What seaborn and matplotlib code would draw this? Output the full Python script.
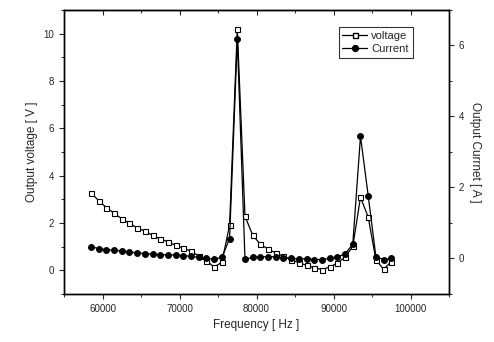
import matplotlib
matplotlib.use('Agg')
import matplotlib.pyplot as plt
import seaborn as sns
import numpy as np
from matplotlib.ticker import MultipleLocator
from matplotlib.lines import Line2D

# frequency steps (Hz)
freq = [58500, 59500, 60500, 61500, 62500, 63500, 64500, 65500, 66500, 67500,
        68500, 69500, 70500, 71500, 72500, 73500, 74500, 75500, 76500, 77500,
        78500, 79500, 80500, 81500, 82500, 83500, 84500, 85500, 86500, 87500,
        88500, 89500, 90500, 91500, 92500, 93500, 94500, 95500, 96500, 97500]

voltage = [3.28, 2.94, 2.65, 2.41, 2.18, 1.98, 1.80, 1.65, 1.48, 1.32,
           1.21, 1.05, 0.94, 0.81, 0.60, 0.40, 0.14, 0.34, 1.91, 10.2,
           2.29, 1.48, 1.10, 0.90, 0.73, 0.59, 0.45, 0.32, 0.21, 0.11,
           0.03, 0.14, 0.31, 0.56, 1.01, 3.09, 2.25, 0.45, 0.04, 0.37]

current = [0.33, 0.28, 0.25, 0.23, 0.21, 0.18, 0.16, 0.14, 0.12, 0.11,
           0.10, 0.10, 0.08, 0.06, 0.03, 0.00, -0.02, 0.03, 0.56, 6.18,
           -0.02, 0.03, 0.05, 0.05, 0.05, 0.02, 0.00, -0.01, -0.01, -0.03,
           -0.03, 0.00, 0.05, 0.12, 0.41, 3.44, 1.77, 0.05, -0.03, 0.00]

sns.set_style('ticks')
plt.rcParams['font.family'] = ['Liberation Sans', 'DejaVu Sans']

fig = plt.figure(figsize=(4.94, 3.42), dpi=100)
ax = fig.add_axes([0.1296, 0.1404, 0.7794, 0.8304])
ax2 = ax.twinx()

sns.lineplot(x=freq, y=voltage, ax=ax, color='black', linewidth=0.9,
             marker='s', markersize=3.6, markerfacecolor='white',
             markeredgecolor='black', markeredgewidth=0.8)
sns.lineplot(x=freq, y=current, ax=ax2, color='black', linewidth=0.9,
             marker='o', markersize=4.2, markerfacecolor='black',
             markeredgecolor='black')

ax.set_xlim(55000, 105000)
ax.set_ylim(-1, 11)
ax2.set_ylim(-1, 7)

ax.xaxis.set_major_locator(MultipleLocator(10000))
ax.xaxis.set_minor_locator(MultipleLocator(5000))
ax.yaxis.set_major_locator(MultipleLocator(2))
ax.yaxis.set_minor_locator(MultipleLocator(1))
ax2.yaxis.set_major_locator(MultipleLocator(2))
ax2.yaxis.set_minor_locator(MultipleLocator(1))

for a in (ax, ax2):
    a.tick_params(which='major', length=3.5, width=0.8, labelsize=7, direction='out')
    a.tick_params(which='minor', length=2, width=0.7, direction='out')
    for s in a.spines.values():
        s.set_linewidth(1.0)
        s.set_color('black')

# mirrored ticks on the top edge, pointing inward
top = ax.secondary_xaxis('top')
top.xaxis.set_major_locator(MultipleLocator(10000))
top.xaxis.set_minor_locator(MultipleLocator(5000))
top.tick_params(which='major', direction='in', length=3.5, width=0.8, labeltop=False)
top.tick_params(which='minor', direction='in', length=2, width=0.7)

ax.set_xlabel('Frequency [ Hz ]', fontsize=8.5)
ax.set_ylabel('Output voltage [ V ]', fontsize=8.5)
ax2.set_ylabel('Output Currnet [ A ]', fontsize=8.5, rotation=270, labelpad=12)

handles = [
    Line2D([], [], color='black', linewidth=0.9, marker='s', markersize=3.6,
           markerfacecolor='white', markeredgecolor='black'),
    Line2D([], [], color='black', linewidth=0.9, marker='o', markersize=4.2,
           markerfacecolor='black'),
]
leg = ax2.legend(handles, ['voltage', 'Current'], loc='upper right',
                 bbox_to_anchor=(0.92, 0.96), fontsize=8, frameon=True,
                 fancybox=False, handlelength=2.2, borderpad=0.35,
                 labelspacing=0.3, handletextpad=0.4)
leg.get_frame().set_edgecolor('black')
leg.get_frame().set_linewidth(0.8)

fig.savefig('out.png', dpi=100)
